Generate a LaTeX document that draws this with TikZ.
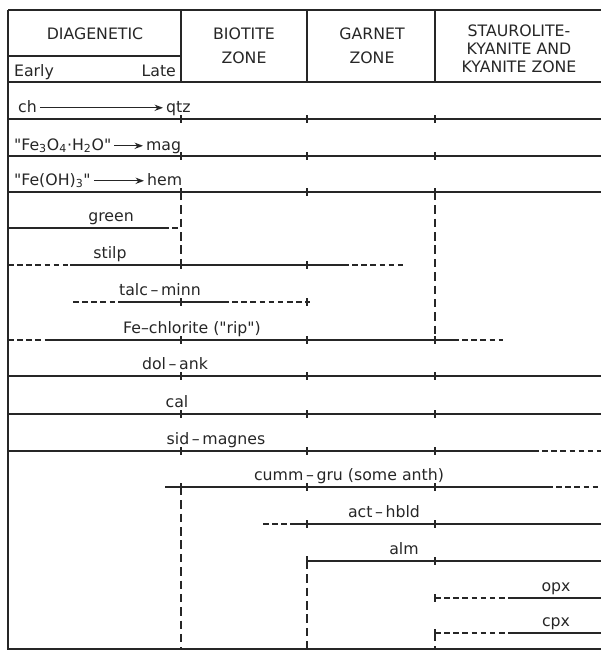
\documentclass[tikz,border=0pt]{standalone}
\usepackage{fontspec}
\setmainfont{DejaVu Sans}
\usetikzlibrary{arrows.meta,positioning}
\definecolor{ink}{RGB}{38,38,38}

\begin{document}
\begin{tikzpicture}[x=0.025cm, y=-0.025cm,
    every node/.style={font=\fontsize{11.2}{13}\selectfont, text=ink},
    frame/.style={draw=ink, line width=1pt},
    spanline/.style={draw=ink, line width=0.9pt},
    vague/.style={spanline, dash pattern=on 4pt off 2.5pt},
    zonedash/.style={draw=ink, line width=0.9pt, dash pattern=on 6pt off 3.5pt},
    tickmark/.style={draw=ink, line width=0.8pt},
    mineral/.style={inner sep=2pt, text height=8pt, text depth=2pt, anchor=base},
    zonehead/.style={align=center, inner sep=0pt, anchor=north},
    reaction/.style={draw=ink, line width=0.9pt, -{Stealth[length=6pt, width=4.5pt]}}]
    \useasboundingbox (0,0) rectangle (601,651);

    % Table frame and header rules
    \draw[frame] (8,10) -- (601,10);
    \draw[frame, line width=1.3pt] (8,82) -- (601,82);
    \draw[frame] (8,56) -- (181,56);
    \foreach \x in {181,307,435}
        \draw[frame] (\x,10) -- (\x,82);
    \draw[frame] (8,10) -- (8,649) -- (601,649);

    % Zone headings
    \node[zonehead] (diag) at (95,28) {DIAGENETIC};
    \node[mineral, anchor=base west] (early) at (11,76) {Early};
    \node[mineral, anchor=base east] (late) at (179,76) {Late};
    \node[zonehead] (biotite) at (244,28) {BIOTITE\\[3.4pt]ZONE};
    \node[zonehead] (garnet) at (372,28) {GARNET\\[3.4pt]ZONE};
    \node[zonehead] (stauro) at (519,25) {STAUROLITE-\\[-0.3pt]KYANITE AND\\[-0.3pt]KYANITE ZONE};

    % Reactions in the diagenetic column
    \node[mineral, anchor=base west] (ch) at (15,112) {ch};
    \node[mineral, anchor=base west] (qtz) at (163,112) {qtz};
    \draw[reaction] (ch) -- (qtz);
    \node[mineral, anchor=base west] (fethree) at (11,150) {\textquotedbl Fe\textsubscript{3}O\textsubscript{4}·H\textsubscript{2}O\textquotedbl};
    \node[mineral, anchor=base west] (mag) at (143,150) {mag};
    \draw[reaction] (fethree) -- (mag);
    \node[mineral, anchor=base west] (feoh) at (11,185) {\textquotedbl Fe(OH)\textsubscript{3}\textquotedbl};
    \node[mineral, anchor=base west] (hem) at (144,185) {hem};
    \draw[reaction] (feoh) -- (hem);

    % Mineral ranges
    \draw[spanline] (8,119) -- (601,119);
    \draw[spanline] (8,156) -- (601,156);
    \draw[spanline] (8,192) -- (601,192);
    \node[mineral] (green) at (111,221) {green};
    \draw[spanline] (8,228) -- (163,228);
    \draw[vague] (163,228) -- (181,228);
    \node[mineral] (stilp) at (110,258) {stilp};
    \draw[vague] (8,265) -- (70,265);
    \draw[spanline] (70,265) -- (343,265);
    \draw[vague] (343,265) -- (403,265);
    \node[mineral] (talcminn) at (160,295) {talc\,--\,minn};
    \draw[vague] (73,302) -- (118,302);
    \draw[spanline] (118,302) -- (223,302);
    \draw[vague] (223,302) -- (310,302);
    \node[mineral] (fechl) at (192,333) {Fe--chlorite (\textquotedbl rip\textquotedbl)};
    \draw[vague] (8,340) -- (45,340);
    \draw[spanline] (45,340) -- (453,340);
    \draw[vague] (453,340) -- (503,340);
    \node[mineral] (dolank) at (175,369) {dol\,--\,ank};
    \draw[spanline] (8,376) -- (601,376);
    \node[mineral] (cal) at (177,407) {cal};
    \draw[spanline] (8,414) -- (601,414);
    \node[mineral] (sidmag) at (216,444) {sid\,--\,magnes};
    \draw[spanline] (8,451) -- (533,451);
    \draw[vague] (533,451) -- (601,451);
    \node[mineral] (cumm) at (349,480) {cumm\,--\,gru (some anth)};
    \draw[spanline] (165,487) -- (547,487);
    \draw[vague] (547,487) -- (601,487);
    \node[mineral] (acthbld) at (384,517) {act\,--\,hbld};
    \draw[vague] (263,524) -- (290,524);
    \draw[spanline] (290,524) -- (601,524);
    \node[mineral] (alm) at (404,554) {alm};
    \draw[spanline] (307,561) -- (601,561);
    \node[mineral] (opx) at (556,591) {opx};
    \draw[vague] (435,598) -- (510,598);
    \draw[spanline] (510,598) -- (601,598);
    \node[mineral] (cpx) at (556,626) {cpx};
    \draw[vague] (435,633) -- (510,633);
    \draw[spanline] (510,633) -- (601,633);

    % Zone boundaries below the header
    \draw[zonedash] (181,192) -- (181,265);
    \draw[zonedash] (435,192) -- (435,340);
    \draw[zonedash] (181,487) -- (181,649);
    \draw[zonedash] (307,561) -- (307,649);
    \draw[zonedash] (435,633) -- (435,649);

    % Ticks where ranges cross zone boundaries
    \foreach \y in {119,156,192,340,376,414,451,487}
        \foreach \x in {181,307,435}
            \draw[tickmark] (\x,\y-4) -- (\x,\y+4);
    \foreach \x/\y in {181/265,307/265,181/302,307/302,307/524,435/524,435/561,435/598,435/633}
        \draw[tickmark] (\x,\y-4) -- (\x,\y+4);
    \draw[tickmark] (307,556) -- (307,566);
\end{tikzpicture}
\end{document}
